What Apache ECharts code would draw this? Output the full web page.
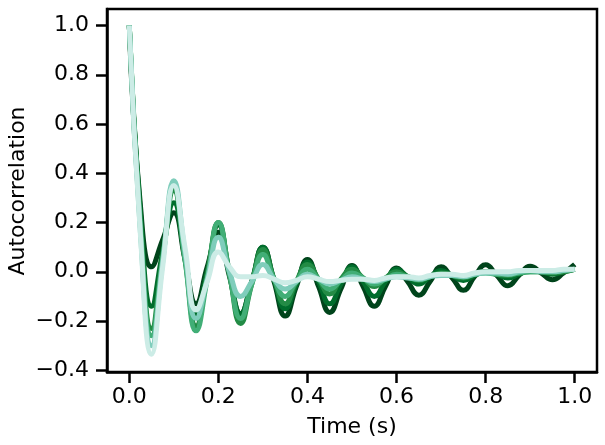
<!DOCTYPE html>
<html>
<head>
<meta charset="utf-8">
<script src="https://cdn.jsdelivr.net/npm/echarts@6/dist/echarts.min.js"></script>
<style>
html,body{margin:0;padding:0;background:#fff;}
#c{width:605px;height:445px;}
</style>
</head>
<body>
<div id="c"></div>
<script>
// Time lags (s)
const times = [0,0.025,0.05,0.075,0.1,0.125,0.15,0.175,0.2,0.225,0.25,0.275,0.3,0.325,0.35,0.375,0.4,0.425,0.45,0.475,0.5,0.525,0.55,0.575,0.6,0.625,0.65,0.675,0.7,0.725,0.75,0.775,0.8,0.825,0.85,0.875,0.9,0.925,0.95,0.975,1.0];

// Autocorrelation values, darkest to lightest
const acA = [1.0,0.27,0.02,0.13,0.24,0.05,-0.13,0.02,0.16,-0.02,-0.17,-0.04,0.10,-0.04,-0.18,-0.06,0.05,-0.06,-0.165,-0.07,0.025,-0.06,-0.14,-0.06,0.015,-0.04,-0.095,-0.04,0.02,-0.025,-0.075,-0.02,0.028,-0.015,-0.057,-0.015,0.022,-0.005,-0.032,-0.005,0.03];
const acB = [1.0,0.24,-0.14,0.08,0.28,0.06,-0.17,0.0,0.19,0.0,-0.17,-0.04,0.10,-0.03,-0.15,-0.05,0.04,-0.04,-0.13,-0.05,0.02,-0.04,-0.10,-0.04,0.01,-0.02,-0.05,-0.02,0.005,-0.015,-0.035,-0.015,0.0,-0.01,-0.025,-0.01,0.005,0.0,-0.01,0.0,0.01];
const acC = [1.0,0.2,-0.23,0.06,0.33,0.05,-0.22,-0.01,0.2,-0.01,-0.21,-0.05,0.09,-0.03,-0.13,-0.04,0.03,-0.03,-0.09,-0.03,0.01,-0.025,-0.06,-0.025,0.0,-0.02,-0.035,-0.02,-0.005,-0.015,-0.025,-0.01,0.0,-0.01,-0.015,-0.005,0.0,0.0,-0.005,0.0,0.01];
const acD = [1.0,0.18,-0.26,0.05,0.35,0.05,-0.24,-0.03,0.2,-0.01,-0.19,-0.05,0.07,-0.03,-0.10,-0.04,0.01,-0.03,-0.07,-0.035,-0.005,-0.025,-0.05,-0.03,-0.01,-0.02,-0.03,-0.02,-0.01,-0.015,-0.02,-0.01,-0.005,-0.01,-0.01,-0.005,0.0,0.0,0.0,0.005,0.01];
const acE = [1.0,0.16,-0.30,0.04,0.37,0.08,-0.19,-0.03,0.14,0.0,-0.10,-0.04,0.03,-0.03,-0.07,-0.04,-0.01,-0.03,-0.05,-0.035,-0.02,-0.03,-0.04,-0.03,-0.02,-0.025,-0.03,-0.02,-0.015,-0.015,-0.02,-0.01,-0.005,-0.005,-0.01,0.0,0.005,0.0,0.0,0.005,0.01];
const acF = [1.0,0.15,-0.335,0.02,0.35,0.10,-0.155,-0.04,0.08,0.02,-0.02,-0.02,-0.015,-0.03,-0.045,-0.035,-0.02,-0.03,-0.04,-0.035,-0.03,-0.03,-0.035,-0.025,-0.02,-0.02,-0.025,-0.015,-0.01,-0.01,-0.015,-0.005,0.0,0.0,0.0,0.005,0.005,0.005,0.005,0.01,0.01];

const seriesValues = [acA, acB, acC, acD, acE, acF];
const seriesColors = ['#00441b','#006d2c','#238b45','#41ae76','#7fcdbb','#ccece6'];

const xTicks = [0.0,0.2,0.4,0.6,0.8,1.0];
const yTicks = [-0.4,-0.2,0.0,0.2,0.4,0.6,0.8,1.0];
const xTitle = 'Time (s)';
const yTitle = 'Autocorrelation';

const fmt = v => (Math.round(v*10)/10).toFixed(1).replace('-', '\u2212');
const FONT = 'DejaVu Sans';

const chart = echarts.init(document.getElementById('c'), null, {renderer:'canvas'});
chart.setOption({
  animation:false,
  backgroundColor:'#fff',
  grid:{left:107,right:8,top:9,bottom:73,show:true,borderColor:'#000',borderWidth:2.5,containLabel:false,outerBoundsMode:'none'},
  graphic:[{
    type:'text', x:18, y:191, rotation:Math.PI/2,
    style:{text:yTitle, font:'22px "DejaVu Sans"', fill:'#000', align:'center', verticalAlign:'middle'}
  }],
  xAxis:{
    type:'value',min:-0.05,max:1.05,
    name:xTitle,nameLocation:'middle',nameGap:44,nameMoveOverlap:false,
    nameTextStyle:{fontFamily:FONT,fontSize:22,color:'#000'},
    axisLine:{show:true,onZero:false,lineStyle:{color:'#000',width:2.5}},
    axisTick:{show:true,length:11,lineStyle:{color:'#000',width:2.5},customValues:xTicks},
    axisLabel:{fontFamily:FONT,fontSize:22,color:'#000',margin:14,customValues:xTicks,formatter:fmt},
    splitLine:{show:false}
  },
  yAxis:{
    type:'value',min:-0.407,max:1.067,
    axisLine:{show:true,onZero:false,lineStyle:{color:'#000',width:2.5}},
    axisTick:{show:true,length:11,lineStyle:{color:'#000',width:2.5},customValues:yTicks},
    axisLabel:{fontFamily:FONT,fontSize:22,color:'#000',margin:18,customValues:yTicks,formatter:fmt},
    splitLine:{show:false}
  },
  series: seriesValues.map((vals,i)=>({
    type:'line',
    data: times.map((t,k)=>[t, vals[k]]),
    showSymbol:false,
    smooth:0.5,
    lineStyle:{color:seriesColors[i],width:5},
    itemStyle:{color:seriesColors[i]},
    z:2+i
  }))
});
</script>
</body>
</html>
